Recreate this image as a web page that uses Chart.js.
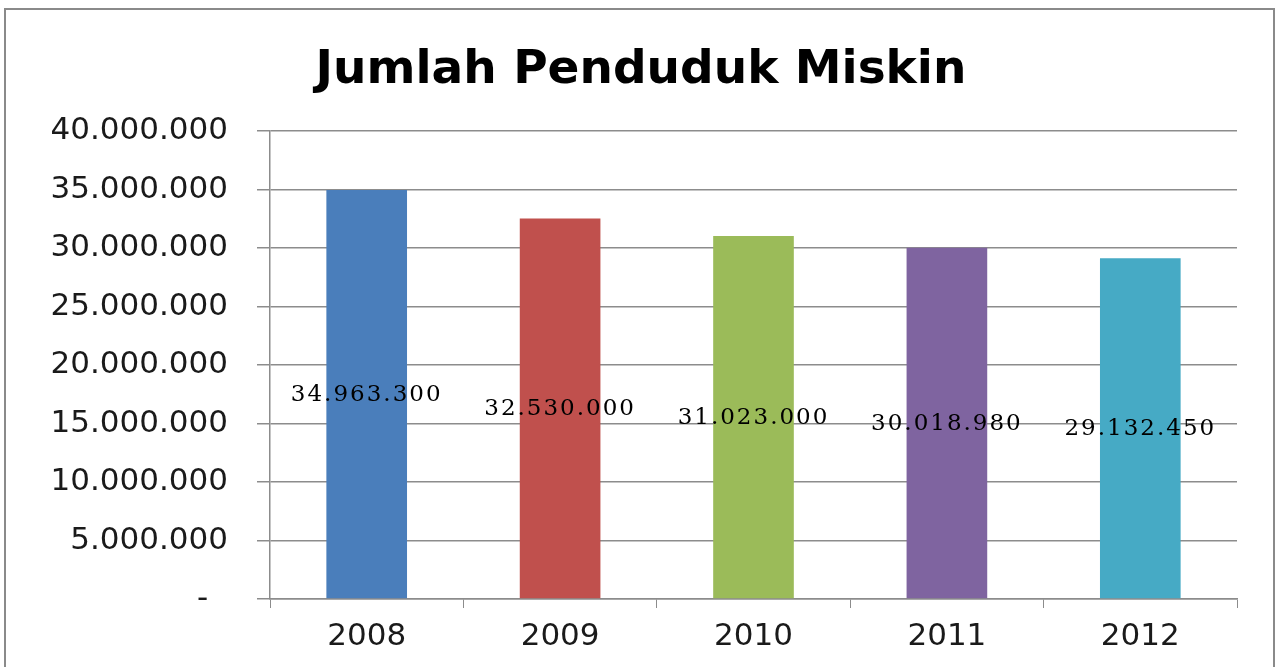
<!DOCTYPE html>
<html>
<head>
<meta charset="utf-8">
<title>Jumlah Penduduk Miskin</title>
<script src="https://cdn.jsdelivr.net/npm/chart.js@4.4.1/dist/chart.umd.min.js"></script>
<style>
    html, body { margin: 0; padding: 0; background: #ffffff; overflow: hidden; }
    #frame {
        position: absolute; left: 4px; top: 8px; width: 1271px; height: 720px;
        box-sizing: border-box; border: 2px solid #8a8a8a;
    }
    #wrap { position: absolute; left: 0; top: 0; width: 1278px; height: 667px; }
</style>
</head>
<body>
<div id="frame"></div>
<div id="wrap"><canvas id="poverty-chart" width="1278" height="667"></canvas></div>
<script>
// Data
const chartTitle = 'Jumlah Penduduk Miskin';
const years = ['2008', '2009', '2010', '2011', '2012'];
const poorPopulation = [34963300, 32530000, 31023000, 30018980, 29132450];
const barColors = ['#4a7ebb', '#c0504d', '#9bbb59', '#7f64a0', '#46aac5'];
const yTicks = [0, 5000000, 10000000, 15000000, 20000000, 25000000, 30000000, 35000000, 40000000];

// format with dots as thousand separator, zero as "-" (accounting style, padded)
function formatNumber(v) {
    if (v === 0) return '-  ';
    return String(v).replace(/\B(?=(\d{3})+(?!\d))/g, '.');
}

// Title centered on the whole canvas (not on the plot area)
const centeredTitle = {
    id: 'centeredTitle',
    afterDraw(chart) {
        const ctx = chart.ctx;
        ctx.save();
        ctx.font = 'bold 47px "DejaVu Sans"';
        ctx.fillStyle = '#000000';
        ctx.textAlign = 'center';
        ctx.textBaseline = 'alphabetic';
        ctx.fillText(chartTitle, chart.width / 2 + 2, 83);
        ctx.restore();
    }
};

// Value labels in the middle of each bar
const valueLabels = {
    id: 'valueLabels',
    afterDatasetsDraw(chart) {
        const ctx = chart.ctx;
        const meta = chart.getDatasetMeta(0);
        ctx.save();
        ctx.letterSpacing = '2px';
        ctx.font = '23px "DejaVu Serif"';
        ctx.fillStyle = '#000000';
        ctx.textAlign = 'center';
        ctx.textBaseline = 'middle';
        meta.data.forEach((bar, i) => {
            const mid = (bar.y + bar.base) / 2;
            ctx.fillText(formatNumber(poorPopulation[i]), bar.x, mid + 1);
        });
        ctx.restore();
    }
};

Chart.defaults.font.family = "'DejaVu Sans', sans-serif";
Chart.defaults.color = '#1a1a1a';

const ctx = document.getElementById('poverty-chart').getContext('2d');
const chart = new Chart(ctx, {
    type: 'bar',
    data: {
        labels: years,
        datasets: [{
            data: poorPopulation,
            backgroundColor: barColors,
            borderWidth: 0,
            barPercentage: 0.417,
            categoryPercentage: 1.0
        }]
    },
    options: {
        responsive: false,
        animation: false,
        layout: { padding: { left: 0, right: 41, top: 131, bottom: 0 } },
        plugins: {
            legend: { display: false },
            tooltip: { enabled: false },
            title: { display: false }
        },
        scales: {
            x: {
                grid: {
                    drawOnChartArea: false,
                    drawTicks: true,
                    tickLength: 9,
                    color: '#8c8c8c',
                    offset: true
                },
                border: { color: '#8c8c8c', width: 1.5 },
                ticks: { font: { size: 31 }, color: '#1a1a1a', padding: 10 },
                afterFit(scale) { scale.height = 68; }
            },
            y: {
                min: 0,
                max: 40000000,
                afterBuildTicks(scale) {
                    scale.ticks = yTicks.map(v => ({ value: v }));
                },
                grid: { color: '#8c8c8c', lineWidth: 1.5, tickLength: 13 },
                border: { color: '#8c8c8c', width: 1.5 },
                ticks: {
                    font: { size: 31 },
                    color: '#1a1a1a',
                    padding: 29,
                    callback: (v) => formatNumber(v)
                },
                afterFit(scale) { scale.width = 270; }
            }
        }
    },
    plugins: [centeredTitle, valueLabels]
});
</script>
</body>
</html>
